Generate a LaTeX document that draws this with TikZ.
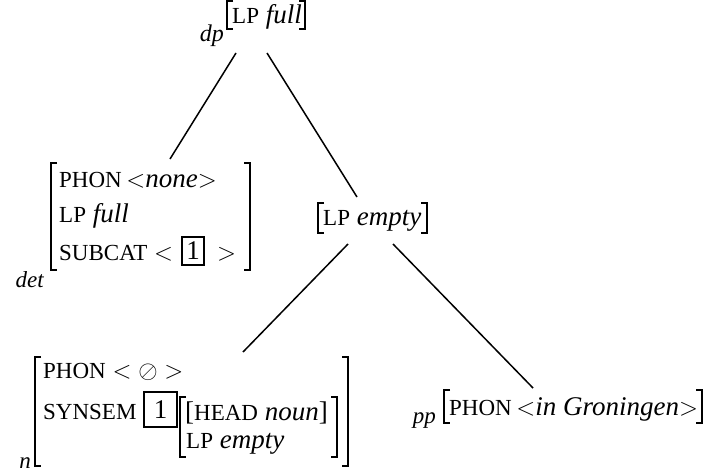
\documentclass[tikz,border=0pt]{standalone}
\usepackage{fontspec}
\setmainfont{Liberation Serif}[ItalicFont={Liberation Serif Italic}]
\usetikzlibrary{calc}

% feature names in reduced capitals
\newcommand\feat[1]{{\fontsize{23}{27}\selectfont #1}}
% square brackets of an attribute-value matrix: x, top y, bottom y
\newcommand\bropen[3]{\draw[brk] ({#1+6},#2) -- (#1,#2) -- (#1,#3) -- ({#1+6},#3);}
\newcommand\brclose[3]{\draw[brk] ({#1-6},#2) -- (#1,#2) -- (#1,#3) -- ({#1-6},#3);}

\tikzset{
  val/.style={inner sep=0pt, anchor=base west, font=\fontsize{27}{32}\selectfont},
  lbl/.style={inner sep=0pt, anchor=base east, font=\fontsize{23}{27}\selectfont\itshape},
  brk/.style={line width=1.6pt},
  edge/.style={line width=1.5pt},
  tagbox/.style={draw, line width=1.6pt, inner sep=0pt, font=\fontsize{27}{32}\selectfont}
}

\begin{document}
\begin{tikzpicture}[x=1pt,y=-1pt]
\useasboundingbox (0,0) rectangle (706,474);

% root: dp [LP full]
\node[lbl, font=\fontsize{24}{28}\selectfont\itshape] (dp) at (224,41) {dp};
\node[val] (root) at (232,23) {\feat{LP} \textit{full}};
\bropen{227}{1}{29}
\brclose{305}{1}{29}

% det
\node[lbl] (detl) at (44,287) {det};
\node[val] (d1) at (59,187) {\feat{PHON}\,$<$\textit{none}$>$};
\node[val] (d2) at (59,222) {\feat{LP} \textit{full}};
\node[val] (d3) at (59,260) {\feat{SUBCAT}};
\node[val] (d3a) at (154,260) {$<$};
\node[tagbox, minimum width=22pt, minimum height=28pt] (t1) at (193,251) {1};
\node[val] (d3b) at (217,260) {$>$};
\bropen{51}{163}{270}
\brclose{250}{163}{270}

% [LP empty]
\node[val] (mid) at (323,225) {\feat{LP} \textit{empty}};
\bropen{318}{203}{233}
\brclose{427}{203}{233}

% n
\node[lbl] (nl) at (31,468) {n};
\node[val] (n1) at (43,378) {\feat{PHON} $<$ $\oslash$ $>$};
\node[val] (n2) at (43,419) {\feat{SYNSEM}};
\node[tagbox, minimum width=33pt, minimum height=35pt] (t2) at (160.5,409.5) {1};
\node[val] (n3) at (185,420) {[\feat{HEAD} \textit{noun}]};
\node[val] (n4) at (186,448) {\feat{LP} \textit{empty}};
\bropen{180}{397}{457}
\brclose{337}{397}{457}
\bropen{35}{357}{466}
\brclose{348}{357}{466}

% pp
\node[lbl] (ppl) at (436,423) {pp};
\node[val] (pp) at (449,415) {\feat{PHON}\,$<$\textit{in Groningen}$>$};
\bropen{444}{390}{423}
\brclose{702}{390}{423}

% tree edges
\coordinate (rootL) at (236,53);
\coordinate (rootR) at (267,53);
\coordinate (detT) at (170,159);
\coordinate (midT) at (357,197);
\coordinate (midL) at (348,244);
\coordinate (midR) at (393,244);
\coordinate (nT) at (243,352);
\coordinate (ppT) at (533,388);
\draw[edge] (rootL) -- (detT);
\draw[edge] (rootR) -- (midT);
\draw[edge] (midL) -- (nT);
\draw[edge] (midR) -- (ppT);
\end{tikzpicture}
\end{document}
